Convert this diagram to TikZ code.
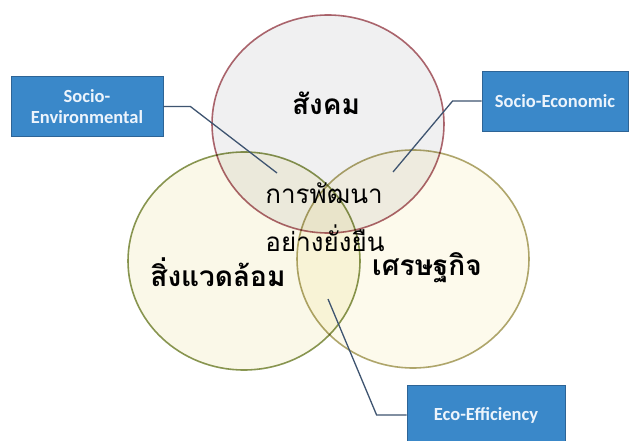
\documentclass[tikz,border=0pt]{standalone}
\usepackage{fontspec}
\setmainfont{Carlito}
\newfontfamily\thaifont[Script=Thai]{Loma}
\usepackage{xcolor}
\usetikzlibrary{positioning,shapes.geometric}
\definecolor{boxfill}{RGB}{58,136,201}
\definecolor{boxline}{RGB}{45,100,150}
\definecolor{boxtext}{RGB}{236,244,252}
\definecolor{linkcol}{RGB}{62,84,112}
\definecolor{socfill}{RGB}{240,240,241}
\definecolor{socline}{RGB}{176,104,112}
\definecolor{envfill}{RGB}{250,248,232}
\definecolor{envline}{RGB}{138,152,84}
\definecolor{ecofill}{RGB}{253,250,236}
\definecolor{ecoline}{RGB}{176,168,112}

\begin{document}
\begin{tikzpicture}[x=1pt,y=-1pt]
\tikzset{ring/.style = {shape=ellipse,minimum width=232pt,minimum height=218pt,inner sep=0pt,line width=1.6pt}}
\tikzset{topic/.style = {shape=rectangle,draw=boxline,fill=boxfill,line width=0.8pt,text=boxtext,font=\bfseries\fontsize{18.5}{21}\selectfont,align=center,minimum height=60pt,inner sep=2pt}}
\tikzset{link/.style = {draw=linkcol,line width=1.3pt}}
\tikzset{thaibig/.style = {font=\thaifont\bfseries\fontsize{28}{32}\selectfont}}
\tikzset{thaimid/.style = {font=\thaifont\fontsize{26}{30}\selectfont}}
\clip (0,0) rectangle (632,441);
\fill[white] (0,0) rectangle (632,441);
\begin{scope}[blend mode=multiply]
\node[ring,fill=socfill,draw=socline] (soc) at (328,124) {};
\node[ring,fill=envfill,draw=envline] (env) at (244,261) {};
\node[ring,fill=ecofill,draw=ecoline] (eco) at (413,259) {};
\end{scope}
\node[topic,minimum width=152pt] (senv) at (87,106.5) {Socio-\\Environmental};
\node[topic,minimum width=146pt] (secon) at (555,101) {Socio-Economic};
\node[topic,minimum width=158pt] (eeff) at (486,415) {Eco-Efficiency};
\coordinate (senvtip) at (277,173);
\coordinate (secontip) at (393,172);
\coordinate (eefftip) at (328,299);
\draw[link] (senv.east) -- ++(27,0) -- (senvtip);
\draw[link] (secon.west) -- ++(-29,0) -- (secontip);
\draw[link] (eeff.west) -- ++(-30,0) -- (eefftip);
\node[thaibig] (soctext) at (326,103) {สังคม};
\node[thaimid] (devtop) at (324,193) {การพัฒนา};
\node[thaimid] (devbot) at (325,238) {อย่างยั่งยืน};
\node[thaibig] (envtext) at (218,272) {สิ่งแวดล้อม};
\node[thaibig] (ecotext) at (427,268) {เศรษฐกิจ};
\end{tikzpicture}
\end{document}
